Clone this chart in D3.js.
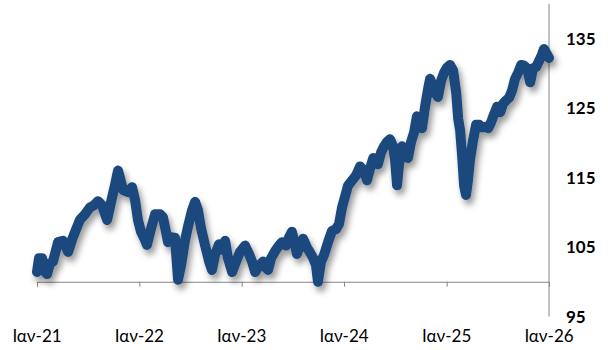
<!DOCTYPE html>
<html>
<head>
<meta charset="utf-8">
<script src="https://cdn.jsdelivr.net/npm/d3@7"></script>
<style>
  body { margin: 0; background: #fff; }
  .axis path, .axis line { stroke: #868686; }
  .tick-label { font-family: "Lato", "Noto Sans", sans-serif; fill: #000; }
</style>
</head>
<body>
<div id="graph"></div>
<script>
// index level (2021 = start)
var dates = [
  "2021-01-01","2021-01-08","2021-01-19","2021-01-30","2021-02-06","2021-02-16","2021-02-27","2021-03-17",
  "2021-04-04","2021-04-22","2021-05-09","2021-06-03","2021-06-21","2021-07-09","2021-07-23","2021-08-07",
  "2021-08-21","2021-09-08","2021-09-25","2021-10-06","2021-10-17","2021-10-28","2021-11-04","2021-11-22",
  "2021-12-06","2021-12-17","2021-12-27","2022-01-07","2022-01-18","2022-01-28","2022-02-12","2022-02-26",
  "2022-03-16","2022-03-26","2022-04-06","2022-04-13","2022-04-28","2022-05-08","2022-05-19","2022-05-30",
  "2022-06-13","2022-06-24","2022-07-08","2022-07-19","2022-07-29","2022-08-09","2022-08-23","2022-09-07",
  "2022-09-17","2022-09-28","2022-10-12","2022-10-23","2022-11-03","2022-11-13","2022-11-28","2022-12-12",
  "2022-12-26","2023-01-13","2023-01-27","2023-02-07","2023-02-18","2023-03-04","2023-03-18","2023-03-29",
  "2023-04-05","2023-04-16","2023-04-30","2023-05-14","2023-05-25","2023-06-08","2023-06-19","2023-06-29",
  "2023-07-10","2023-07-17","2023-07-28","2023-08-08","2023-08-22","2023-09-02","2023-09-13","2023-09-23",
  "2023-09-30","2023-10-11","2023-10-22","2023-11-05","2023-11-19","2023-12-04","2023-12-14","2023-12-25",
  "2024-01-05","2024-01-15","2024-01-30","2024-02-13","2024-02-27","2024-03-12","2024-03-23","2024-04-03",
  "2024-04-14","2024-04-24","2024-05-01","2024-05-12","2024-05-23","2024-06-02","2024-06-13","2024-06-24",
  "2024-07-01","2024-07-08","2024-07-15","2024-07-26","2024-08-06","2024-08-16","2024-08-27","2024-09-07",
  "2024-09-17","2024-09-28","2024-10-05","2024-10-16","2024-10-27","2024-11-03","2024-11-10","2024-11-21",
  "2024-12-01","2024-12-12","2024-12-23","2025-01-02","2025-01-13","2025-01-24","2025-02-04","2025-02-11",
  "2025-02-18","2025-02-25","2025-03-04","2025-03-11","2025-03-18","2025-03-25","2025-04-05","2025-04-16",
  "2025-04-27","2025-05-07","2025-05-18","2025-05-29","2025-06-08","2025-06-19","2025-06-30","2025-07-11",
  "2025-07-21","2025-08-01","2025-08-12","2025-08-22","2025-09-02","2025-09-13","2025-09-24","2025-10-04",
  "2025-10-15","2025-10-26","2025-11-05","2025-11-16","2025-11-27","2025-12-07","2025-12-14","2025-12-25",
  "2026-01-01"
];
var values = [
  101.4,103.4,103.4,101.4,101.1,102.6,102.9,105.7,
  105.9,104.3,106.4,108.9,109.7,110.7,111.0,111.6,
  111.0,108.9,112.0,113.9,116.0,114.3,113.2,112.9,
  113.6,111.7,108.9,107.2,106.3,105.3,107.7,109.7,
  109.7,109.3,107.2,105.7,106.4,106.3,100.3,102.4,
  106.0,108.0,110.3,111.5,110.3,107.7,105.3,102.9,
  101.7,103.9,105.4,104.6,105.9,103.4,101.4,102.9,
  104.3,105.2,104.0,102.9,101.4,102.3,102.9,102.0,
  101.7,103.4,104.4,105.2,105.7,105.2,106.4,107.2,
  105.3,104.0,105.3,106.2,104.9,104.2,103.4,102.4,
  100.0,102.9,103.9,105.7,107.3,107.6,108.3,110.7,
  112.3,113.8,114.6,115.3,116.6,116.0,114.6,116.3,
  117.8,117.5,116.9,118.6,119.5,120.1,120.5,119.5,
  117.5,113.9,116.8,119.5,118.9,117.8,120.1,121.5,
  123.8,122.6,122.1,125.2,127.8,129.2,128.4,127.2,
  126.6,128.9,130.1,130.8,131.2,130.4,127.2,123.5,
  121.8,118.2,113.9,112.5,114.6,117.5,120.3,122.6,
  122.6,122.2,122.3,122.1,122.9,124.1,125.2,124.4,
  125.6,126.1,126.5,127.5,129.2,130.1,131.2,131.1,
  130.7,128.7,130.7,130.9,131.8,132.7,133.5,132.7,
  132.2
];
var x_ticks = ["2021-01-01","2022-01-01","2023-01-01","2024-01-01","2025-01-01","2026-01-01"];
var x_tick_labels = ["Ιαν-21","Ιαν-22","Ιαν-23","Ιαν-24","Ιαν-25","Ιαν-26"];
var y_ticks = [95, 105, 115, 125, 135];

var width = 608, height = 350;
var parseDate = d3.timeParse("%Y-%m-%d");

var data = dates.map(function(d, i) { return {date: parseDate(d), value: values[i]}; });

var x = d3.scaleTime()
    .domain([parseDate(x_ticks[0]), parseDate(x_ticks[x_ticks.length - 1])])
    .range([37, 549]);
var y = d3.scaleLinear().domain([95, 140]).range([316.5, 3.8]);

var svg = d3.select("#graph").append("svg")
    .attr("width", width)
    .attr("height", height);

var defs = svg.append("defs");
var shadow = defs.append("filter")
    .attr("id", "shadow")
    .attr("x", "-10%").attr("y", "-10%")
    .attr("width", "120%").attr("height", "130%");
shadow.append("feDropShadow")
    .attr("dx", 3)
    .attr("dy", 5)
    .attr("stdDeviation", 3)
    .attr("flood-color", "#000")
    .attr("flood-opacity", 0.4);

// x axis sits on the 100 line
svg.append("g")
    .attr("class", "axis axis--x")
    .attr("transform", "translate(0," + y(100) + ")")
    .call(d3.axisBottom(x)
      .tickValues(x_ticks.map(parseDate))
      .tickSize(5)
      .tickSizeOuter(0)
      .tickFormat(""));

// right hand axis, labels only
var yAxis = svg.append("g")
    .attr("class", "axis axis--y")
    .attr("transform", "translate(549,0)");
yAxis.append("line")
    .attr("y1", y(140))
    .attr("y2", y(95))
    .attr("stroke", "#868686");

svg.selectAll(".y-label")
  .data(y_ticks)
  .enter().append("text")
    .attr("class", "tick-label y-label")
    .attr("x", 566)
    .attr("y", function(d) { return y(d); })
    .attr("dy", "0.36em")
    .style("font-size", "17px")
    .style("font-weight", "bold")
    .text(function(d) { return d; });

svg.selectAll(".x-label")
  .data(x_ticks)
  .enter().append("text")
    .attr("class", "tick-label x-label")
    .attr("x", function(d) { return x(parseDate(d)); })
    .attr("y", 336)
    .attr("dy", "0.35em")
    .attr("text-anchor", "middle")
    .style("font-size", "17px")
    .text(function(d, i) { return x_tick_labels[i]; });

var line = d3.line()
    .x(function(d) { return x(d.date); })
    .y(function(d) { return y(d.value); });

svg.append("path")
    .datum(data)
    .attr("class", "line")
    .attr("fill", "none")
    .attr("stroke", "#1f497d")
    .attr("stroke-width", 10)
    .attr("stroke-linejoin", "round")
    .attr("stroke-linecap", "round")
    .attr("filter", "url(#shadow)")
    .attr("d", line);
</script>
</body>
</html>
